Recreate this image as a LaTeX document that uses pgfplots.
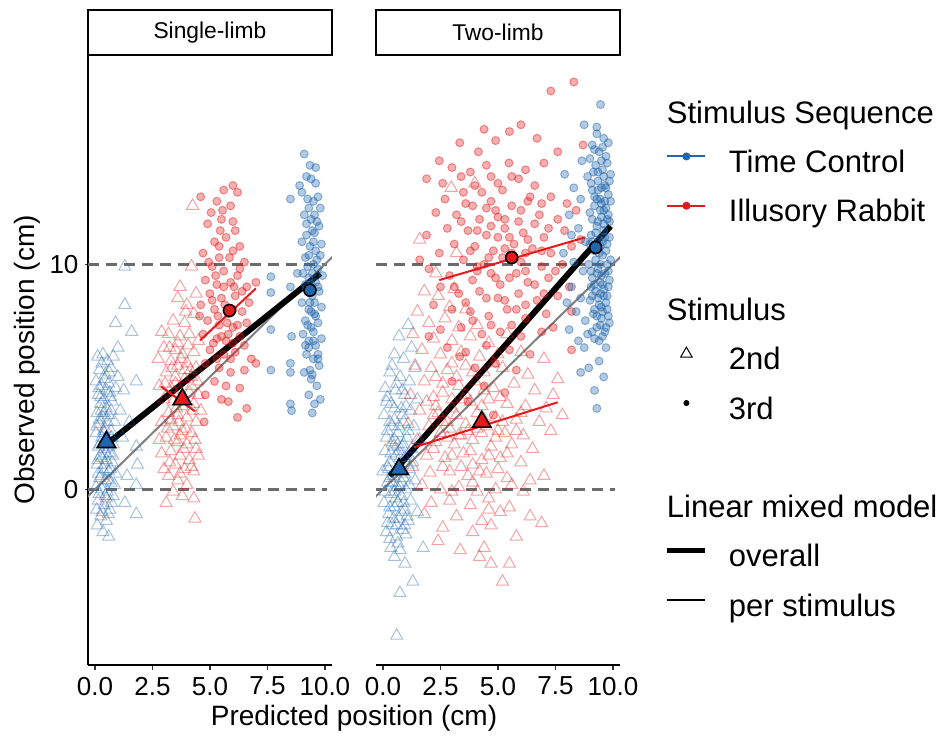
\documentclass[border=0pt]{standalone}
\usepackage{fontspec}
\setmainfont{Liberation Sans}
\usepackage{pgfplots}
\pgfplotsset{compat=1.18}
\definecolor{tcblue}{HTML}{2166AC}
\definecolor{irred}{HTML}{E31A1C}
\definecolor{refgray}{HTML}{7F7F7F}
\definecolor{dashgray}{HTML}{6B6B6B}

\pgfplotsset{
  panel/.style={
    scale only axis, width=121.9pt, height=305pt,
    xmin=-0.3, xmax=10.3, ymin=-7.8, ymax=19.3,
    axis x line=bottom,
    every outer x axis line/.append style={-},
    every outer y axis line/.append style={-},
    axis line style={-, line width=1pt},
    xtick={0,2.5,5,7.5,10},
    xticklabel style={/pgf/number format/fixed, /pgf/number format/fixed zerofill, /pgf/number format/precision=1},
    /pgf/number format/assume math mode=true,
    tick style={black!80, line width=0.8pt},
    tick align=outside, major tick length=2.5pt,
    tick label style={font=\fontsize{13}{15}\selectfont},
    anchor=south west,
  },
  tri/.style={only marks, mark=triangle, mark size=3.5pt,
    mark options={draw=#1, draw opacity=0.4, line width=0.5pt}, forget plot},
  circ/.style={only marks, mark=*, mark size=2pt,
    mark options={draw=#1, fill=#1, draw opacity=0.45, fill opacity=0.35, line width=0.5pt}, forget plot},
  hline/.style={dashgray, line width=1.2pt, dash pattern=on 5.5pt off 3.5pt, forget plot},
  meantri/.style={only marks, mark=triangle*, mark size=5.3pt,
    mark options={fill=#1, draw=black, line width=0.8pt}, forget plot},
  meancirc/.style={only marks, mark=*, mark size=3pt,
    mark options={fill=#1, draw=black, line width=0.8pt}, forget plot},
}

\begin{document}
\begin{tikzpicture}
\useasboundingbox (0,0) rectangle (470.5pt,369pt);

% ---------------- Single-limb ----------------
\begin{axis}[panel, at={(44pt,36.5pt)},
    axis y line=left, ytick={0,10}, y axis line style={-}]
\addplot[hline] coordinates {(-0.3,0) (10.1,0)};
\addplot[hline] coordinates {(-0.3,10) (10.1,10)};
% Time Control, 2nd
\addplot[tri=tcblue] coordinates {
(0.12,5.9) (0.35,6.0) (0.55,5.7) (0.8,5.9) (0.2,5.3) (0.45,5.1) (0.7,5.4) (0.05,4.8) (0.3,4.6) (0.6,4.7)
(0.9,4.5) (0.15,4.2) (0.4,4.0) (0.65,4.3) (0.25,3.8) (0.5,3.6) (0.75,3.9) (0.1,3.4) (0.35,3.2) (0.6,3.3)
(0.85,3.0) (0.2,2.9) (0.45,2.7) (0.7,2.6) (0.05,2.5) (0.3,2.3) (0.55,2.2) (0.8,2.0) (0.15,1.9) (0.4,1.8)
(0.65,1.6) (0.25,1.5) (0.5,1.3) (0.75,1.2) (0.1,1.1) (0.35,0.9) (0.6,0.8) (0.9,0.7) (0.2,0.5) (0.45,0.4)
(0.7,0.3) (0.05,0.1) (0.3,0.0) (0.55,-0.1) (0.8,-0.3) (0.15,-0.5) (0.4,-0.7) (0.65,-0.9) (0.25,-1.2) (0.5,-1.4)
(0.1,-1.6) (0.35,-1.9) (0.6,-2.1) (0.2,3.1) (0.5,4.4) (0.3,5.6) (0.4,2.5) (0.6,1.9) (0.15,0.7) (0.5,-0.4)
(0.3,1.4) (0.7,3.5) (1.3,9.9) (1.3,8.2) (0.9,7.4) (1.6,7.0) (1.0,6.3) (1.8,4.8) (1.25,4.4) (1.1,3.5)
(1.5,3.0) (1.8,1.9) (1.85,1.1) (1.4,0.6) (1.8,0.2) (1.3,-0.6) (1.8,-1.1) (1.2,2.3) (1.0,5.0)
(0.18,4.5) (0.42,4.9) (0.68,4.1) (0.28,3.5) (0.55,3.0) (0.08,2.8) (0.38,2.6) (0.72,2.3) (0.22,2.0) (0.48,1.6)
(0.78,1.5) (0.12,1.3) (0.42,1.1) (0.68,0.9) (0.28,0.6) (0.58,0.4) (0.85,0.2) (0.18,-0.2) (0.45,-0.3) (0.72,-0.6)
(0.32,-1.0) (0.58,-1.1) (0.08,-0.9) (0.4,3.4) (0.62,5.2) (0.25,4.1)
};
% Illusory Rabbit, 2nd
\addplot[tri=irred] coordinates {
(4.25,12.6) (4.2,9.9) (3.7,9.0) (4.4,8.7) (3.6,8.5) (4.0,8.2) (4.3,7.8) (3.4,7.5) (3.9,7.4) (2.9,7.0)
(3.2,6.9) (3.7,6.8) (4.1,6.9) (4.5,6.6) (3.0,6.3) (3.5,6.2) (3.8,6.0) (4.3,6.1) (2.75,5.8) (3.3,5.7)
(3.6,5.5) (4.0,5.6) (4.4,5.4) (3.1,5.2) (3.5,5.0) (3.9,4.9) (4.2,5.0) (2.8,4.6) (3.3,4.5) (3.7,4.4)
(4.1,4.3) (4.5,4.2) (3.0,4.0) (3.4,3.9) (3.8,3.7) (4.3,3.8) (3.2,3.4) (3.6,3.3) (4.0,3.2) (4.4,3.0)
(2.9,3.0) (3.4,2.8) (3.8,2.6) (4.2,2.5) (3.1,2.3) (3.6,2.1) (4.0,2.0) (4.4,1.8) (3.3,1.7) (3.7,1.5)
(4.1,1.3) (2.9,1.6) (3.5,1.1) (3.9,0.9) (4.3,0.8) (3.2,0.6) (3.6,0.4) (4.0,0.2) (3.4,-0.1) (3.8,-0.3)
(4.3,-0.4) (3.1,-0.6) (4.35,-1.3) (2.8,2.2) (4.6,3.5) (3.5,4.7) (3.9,5.3) (4.2,4.6) (3.3,3.1) (3.7,2.4)
(4.5,1.5) (3.0,0.9) (3.6,6.5) (3.95,7.9)
(3.25,6.3) (3.75,5.8) (4.15,5.3) (3.45,4.3) (3.85,4.1) (4.25,3.5) (3.55,3.6) (3.15,2.7) (3.95,2.7) (4.35,2.2)
(3.45,2.2) (3.85,1.8) (3.25,1.2) (4.2,1.0) (3.7,0.7) (3.35,5.4) (4.05,6.4) (3.65,3.0) (4.45,4.8) (3.05,4.7)
};
% Illusory Rabbit, 3rd
\addplot[circ=irred] coordinates {
(4.6,13.0) (5.6,13.3) (6.0,13.5) (6.2,13.2) (5.3,12.8) (5.9,12.6) (4.9,11.8) (5.5,12.0) (6.1,11.5) (5.2,11.0)
(5.7,11.2) (6.3,10.8) (4.7,10.5) (5.4,10.3) (6.0,10.6) (6.5,10.1) (5.1,9.9) (5.6,9.7) (6.2,9.5) (4.8,9.3)
(5.3,9.1) (5.9,9.2) (6.6,9.0) (7.0,9.2) (5.0,8.7) (5.5,8.5) (6.1,8.6) (6.7,8.3) (4.6,8.2) (5.2,8.0)
(5.8,7.8) (6.4,7.9) (4.9,7.5) (5.4,7.3) (6.0,7.2) (6.6,7.4) (4.7,6.9) (5.3,6.7) (5.7,6.6) (6.3,6.8)
(5.0,6.2) (5.6,6.0) (6.1,6.1) (6.8,5.8) (7.0,5.6) (4.8,5.6) (5.4,5.4) (5.9,5.2) (6.5,5.3) (5.2,4.8)
(5.7,4.6) (6.3,4.5) (4.8,4.2) (5.5,4.0) (6.6,3.6) (6.2,3.2) (4.75,3.0) (5.8,3.9) (5.1,8.4) (5.6,9.0)
(6.0,8.0) (5.4,10.8) (6.3,9.8) (5.8,6.9) (6.5,6.4) (5.3,5.8) (6.0,11.9) (5.05,12.3) (4.55,7.7)
(5.45,11.5) (5.85,10.3) (5.25,9.5) (6.05,9.0) (5.65,8.2) (5.35,7.7) (6.2,7.3) (5.75,7.4) (5.15,6.5) (6.0,6.5)
(5.5,6.8) (5.9,5.8) (6.4,8.8) (5.55,12.4) (4.95,10.1)
};
% Time Control, 3rd
\addplot[circ=tcblue] coordinates {
(9.1,14.9) (9.4,13.8) (9.0,13.2) (9.7,13.0) (9.3,12.5) (9.55,12.2) (9.2,11.8) (9.45,11.5) (9.75,11.7) (9.0,11.0)
(9.35,10.8) (9.6,10.6) (9.85,10.9) (9.15,10.3) (9.5,10.0) (9.7,9.8) (9.05,9.6) (9.3,9.4) (9.6,9.2) (9.9,9.5)
(9.2,8.9) (9.45,8.6) (9.75,8.8) (9.0,8.3) (9.3,8.0) (9.55,7.8) (9.85,8.1) (9.15,7.5) (9.4,7.2) (9.7,7.4)
(9.05,6.9) (9.3,6.6) (9.6,6.4) (9.85,6.7) (9.2,6.0) (9.5,5.8) (9.75,5.5) (9.1,5.2) (9.4,4.9) (9.65,4.6)
(9.3,4.2) (9.55,3.8) (9.8,4.0) (9.45,3.4) (9.2,13.9) (9.6,14.3) (9.5,11.0) (9.25,9.9) (9.65,10.2) (9.4,7.9)
(9.55,8.3) (9.3,6.3) (9.7,6.0) (9.1,12.2) (9.8,12.5) (9.4,9.1) (9.5,7.0) (9.35,5.3) (8.5,12.9) (8.5,9.0)
(8.55,6.8) (8.5,5.6) (8.5,5.2) (8.5,3.8) (8.55,3.5) (7.65,9.45) (7.65,8.75) (7.65,7.1) (7.65,5.3) (8.9,13.5)
(8.8,9.6)
(9.25,12.9) (9.5,12.8) (9.65,11.9) (9.4,12.0) (9.2,11.3) (9.55,11.4) (9.3,10.4) (9.8,10.4) (9.45,9.6) (9.15,9.1)
(9.7,9.0) (9.35,8.3) (9.6,7.7) (9.25,7.3) (9.5,6.6) (9.15,6.4) (9.7,5.8) (9.45,5.1) (9.6,13.6) (9.35,14.4)
};
% identity and model lines
\addplot[refgray, line width=1pt, forget plot] coordinates {(-0.5,-0.5) (10.5,10.5)};
\addplot[black, line width=3pt, forget plot] coordinates {(0.5,2.0) (9.8,9.6)};
\addplot[irred, line width=1pt, forget plot] coordinates {(2.87,4.58) (4.35,3.47)};
\addplot[irred, line width=1pt, forget plot] coordinates {(4.57,6.62) (7.0,8.93)};
% means
\addplot[meantri=tcblue] coordinates {(0.5,2.1)};
\addplot[meantri=irred] coordinates {(3.8,4.0)};
\addplot[meancirc=irred] coordinates {(5.85,7.95)};
\addplot[meancirc=tcblue] coordinates {(9.35,8.85)};
\end{axis}

% ---------------- Two-limb ----------------
\begin{axis}[panel, at={(188pt,36.5pt)},
    axis y line=none,
    legend cell align=left,
    legend style={draw=none, fill=none, at={(1.185,0.926)}, anchor=north west,
      inner sep=0pt, outer sep=0pt, row sep=9.65pt, column sep=10.5pt,
      nodes={inner sep=0pt, text height=11.5pt, text depth=3.5pt},
      font=\fontsize{15.5}{18}\selectfont}]
\addplot[hline] coordinates {(-0.3,0) (10.1,0)};
\addplot[hline] coordinates {(-0.3,10) (10.1,10)};
% Time Control, 2nd
\addplot[tri=tcblue] coordinates {
(1.1,7.3) (0.7,6.8) (1.25,6.3) (0.5,6.0) (0.9,5.8) (1.4,5.4) (0.3,5.2) (0.75,5.0) (1.15,4.8) (0.1,4.5)
(0.55,4.4) (0.95,4.2) (1.5,4.0) (0.35,3.8) (0.8,3.6) (1.2,3.5) (0.05,3.3) (0.5,3.1) (0.9,3.0) (1.35,2.8)
(0.2,2.6) (0.65,2.5) (1.05,2.3) (0.4,2.1) (0.85,1.9) (1.25,1.8) (0.1,1.7) (0.55,1.5) (0.95,1.4) (0.3,1.2)
(0.75,1.0) (1.15,0.9) (0.0,0.8) (0.45,0.6) (0.9,0.5) (1.4,0.4) (0.2,0.3) (0.6,0.1) (1.0,0.0) (0.35,-0.2)
(0.8,-0.3) (1.2,-0.5) (0.05,-0.6) (0.5,-0.8) (0.95,-0.9) (0.25,-1.1) (0.7,-1.3) (1.1,-1.4) (0.4,-1.6) (0.85,-1.8)
(0.15,-1.9) (0.6,-2.1) (1.0,-2.0) (0.3,-2.2) (1.75,-2.6) (0.75,-2.7) (0.5,-3.0) (0.96,-3.3) (1.3,-4.1) (0.74,-4.6)
(0.6,-6.5) (0.6,4.7) (0.4,2.8) (0.7,1.7) (0.25,0.9) (1.3,1.2) (0.55,-0.4) (1.6,2.2) (0.15,3.9) (1.0,3.7)
(0.65,2.0) (0.3,0.5) (0.9,-0.6) (1.5,-1.0) (0.45,1.9) (0.8,0.3)
(0.2,4.1) (0.5,3.6) (0.85,3.3) (0.3,3.0) (0.7,2.8) (1.1,2.6) (0.15,2.3) (0.5,2.2) (0.9,2.0) (0.35,1.6)
(0.75,1.4) (1.1,1.1) (0.2,1.0) (0.55,0.8) (0.95,0.7) (0.4,0.3) (0.75,0.1) (1.15,0.2) (0.1,-0.1) (0.5,-0.1)
(0.65,-0.6) (0.3,-0.8) (0.8,-1.0) (1.05,-1.2) (0.45,-1.3) (0.2,-1.5) (0.6,-1.6) (0.95,-1.6) (0.35,-2.6) (0.65,-2.4)
(0.85,4.4) (0.4,5.5)
};
% Illusory Rabbit, 2nd
\addplot[tri=irred] coordinates {
(4.0,13.6) (2.97,13.4) (1.6,11.1) (3.2,10.5) (2.3,9.6) (1.8,8.8) (2.4,8.6) (3.1,8.9) (2.9,8.1) (3.6,8.0)
(1.5,7.9) (2.0,7.4) (2.7,7.6) (3.3,7.2) (4.1,7.3) (1.3,6.9) (2.2,6.7) (3.0,6.6) (3.8,6.8) (4.6,6.5)
(5.4,6.9) (1.7,6.2) (2.5,6.0) (3.4,6.1) (4.2,5.9) (5.0,6.0) (6.0,6.1) (7.0,5.8) (1.4,5.5) (2.1,5.4)
(2.8,5.3) (3.6,5.5) (4.4,5.2) (5.2,5.4) (6.3,5.1) (7.6,4.9) (1.8,4.8) (2.6,4.7) (3.3,4.6) (4.0,4.8)
(4.8,4.5) (5.7,4.7) (6.6,4.4) (7.4,4.2) (1.2,4.2) (2.2,4.1) (3.0,4.0) (3.8,3.9) (4.6,4.0) (5.4,3.8)
(6.2,3.7) (7.1,3.6) (1.6,3.5) (2.4,3.4) (3.2,3.3) (4.1,3.4) (4.9,3.2) (5.8,3.1) (6.8,3.0) (7.8,3.3)
(1.1,2.9) (2.0,2.8) (2.9,2.7) (3.7,2.6) (4.5,2.8) (5.3,2.5) (6.1,2.4) (7.3,2.6) (1.5,2.2) (2.3,2.1)
(3.1,2.0) (3.9,2.2) (4.7,1.9) (5.6,2.0) (6.5,1.8) (1.9,1.5) (2.7,1.4) (3.5,1.6) (4.3,1.3) (5.1,1.4)
(6.0,1.2) (7.0,0.6) (1.3,1.0) (2.05,0.75) (2.9,0.8) (3.7,0.6) (4.5,0.7) (5.4,0.5) (6.4,0.4) (1.7,0.2)
(2.5,0.0) (3.3,0.1) (4.1,-0.1) (4.9,0.0) (6.1,-0.1) (2.1,-0.6) (2.9,-0.5) (3.8,-0.7) (4.6,-0.4) (5.5,-0.8)
(1.8,-1.1) (3.2,-1.2) (4.3,-1.4) (5.1,-1.0) (6.4,-1.2) (6.9,-1.5) (2.6,-1.7) (3.9,-1.9) (4.7,-1.6) (3.36,-2.7)
(4.4,-2.6) (4.2,-3.0) (4.7,-3.3) (5.5,-3.3) (5.2,-4.1) (2.4,-2.3) (5.8,-2.1) (3.0,3.6) (3.4,2.4) (2.6,3.0)
(4.3,2.5) (3.6,4.2) (2.8,2.3) (3.9,1.1) (2.3,3.7) (4.4,4.4) (5.0,2.6) (1.9,3.9) (3.2,5.0)
(2.3,5.0) (3.0,5.6) (3.9,5.2) (4.8,5.6) (2.6,4.3) (3.5,4.0) (4.3,3.7) (5.1,4.1) (2.2,3.3) (2.8,3.0)
(3.6,2.9) (4.4,3.1) (5.2,3.0) (6.0,3.4) (2.5,2.5) (3.3,2.4) (4.1,2.7) (4.9,2.3) (5.8,2.6) (2.2,1.8)
(3.0,1.5) (3.8,1.7) (4.6,1.5) (5.4,1.6) (2.6,1.0) (3.4,1.0) (4.2,0.8) (5.0,0.9) (3.0,-0.1) (3.9,0.3)
(4.6,-0.9) (5.6,0.2)
};
% Illusory Rabbit, 3rd
\addplot[circ=irred] coordinates {
(8.3,18.1) (7.3,17.7) (2.45,14.6) (3.34,15.4) (4.15,15.0) (4.9,15.5) (5.48,14.5) (7.0,14.5) (7.6,15.0) (8.7,15.3)
(3.0,14.3) (3.8,14.1) (4.5,14.4) (6.2,14.2) (5.9,13.8) (4.0,13.5) (3.5,13.2) (5.2,13.3) (6.6,13.5) (7.3,13.0)
(2.7,12.9) (4.7,12.8) (5.6,12.6) (6.3,12.8) (8.0,12.7) (2.3,12.3) (3.2,12.2) (4.2,12.0) (5.0,12.1) (5.9,11.9)
(6.8,12.2) (7.6,12.0) (8.4,12.4) (2.8,11.6) (3.7,11.5) (4.5,11.3) (5.3,11.6) (6.1,11.4) (7.0,11.2) (7.9,11.5)
(8.6,11.1) (1.9,11.3) (3.1,10.9) (4.0,10.8) (4.8,10.6) (5.7,10.9) (6.5,10.7) (7.3,10.5) (8.2,10.8) (2.45,10.5)
(3.5,10.2) (4.4,10.0) (5.2,10.3) (6.0,10.1) (6.9,9.9) (7.8,10.0) (2.0,9.8) (2.9,9.5) (3.9,9.3) (4.7,9.6)
(5.5,9.4) (6.3,9.2) (7.2,9.4) (8.1,9.0) (2.5,9.0) (3.3,8.7) (4.2,8.8) (5.0,8.5) (5.9,8.7) (6.7,8.4)
(7.6,8.6) (2.2,8.2) (3.0,8.0) (3.8,7.9) (4.6,7.7) (5.4,8.0) (6.2,7.6) (7.1,7.8) (8.2,7.9) (2.5,7.1)
(3.4,7.2) (4.3,6.9) (5.1,7.0) (6.0,6.8) (6.9,7.0) (2.8,6.3) (3.6,6.1) (4.5,6.4) (5.5,6.2) (6.4,6.0)
(8.2,6.2) (3.34,5.9) (4.0,5.4) (4.9,5.6) (5.8,5.3) (3.0,4.8) (4.4,4.6) (5.3,4.3) (3.7,3.9) (4.8,3.3)
(1.9,13.8) (1.6,10.2) (5.5,15.9) (6.7,15.6) (5.1,9.1) (5.6,10.5) (4.5,12.5) (6.2,9.7) (4.1,9.9) (5.0,11.2)
(6.6,11.8) (3.6,8.3) (5.8,8.0) (4.7,7.3) (6.4,13.0) (3.9,12.6) (7.4,7.2) (2.6,13.6) (4.4,16.0) (6.0,16.2)
(2.0,6.8)
(3.4,13.9) (4.3,13.2) (5.0,13.6) (5.6,13.9) (4.7,13.9) (3.6,12.7) (4.9,12.4) (5.3,12.0) (6.0,12.4) (6.9,12.7)
(3.4,11.9) (4.1,11.5) (4.7,11.7) (5.5,11.2) (6.3,11.1) (7.2,11.6) (3.8,10.6) (4.6,10.3) (5.3,10.7) (6.2,10.5)
(6.9,10.6) (4.1,9.7) (4.9,9.4) (5.8,9.6) (6.6,9.1) (7.5,9.7) (3.1,9.0) (4.5,8.5) (5.3,8.4) (6.2,8.2)
(7.0,8.7) (3.9,7.5) (5.6,7.3)
};
% Time Control, 3rd
\addplot[circ=tcblue] coordinates {
(9.46,17.1) (8.75,16.2) (9.3,16.1) (9.6,15.6) (9.1,15.3) (9.8,15.4) (9.4,15.0) (9.0,14.7) (9.7,14.8) (9.25,14.4)
(9.55,14.2) (9.9,14.0) (8.9,13.9) (9.35,13.7) (9.65,13.5) (9.1,13.3) (9.8,13.1) (9.45,12.9) (9.2,12.6) (9.7,12.5)
(9.0,12.3) (9.5,12.1) (9.85,11.9) (9.3,11.7) (9.6,11.5) (9.05,11.3) (9.4,11.1) (9.75,10.9) (9.2,10.6) (9.55,10.4)
(9.9,10.2) (8.95,10.0) (9.35,9.8) (9.65,9.6) (9.1,9.4) (9.45,9.2) (9.8,9.0) (9.25,8.8) (9.6,8.6) (9.0,8.4)
(9.4,8.2) (9.75,8.0) (9.15,7.8) (9.5,7.6) (9.85,7.4) (9.3,7.2) (9.65,7.0) (8.9,6.9) (9.4,6.6) (9.7,6.3)
(9.4,5.7) (8.95,5.4) (9.6,5.0) (9.2,4.4) (9.3,3.6) (8.6,5.2) (9.3,15.8) (9.6,13.9) (9.2,13.0) (9.5,12.7)
(9.8,12.2) (9.35,11.9) (9.1,11.0) (9.65,11.2) (9.4,10.5) (9.75,10.0) (9.25,10.2) (9.5,9.5) (9.85,9.3) (9.05,9.0)
(9.6,8.9) (9.35,8.5) (9.7,8.3) (9.2,8.0) (9.55,7.9) (9.45,7.3) (9.8,7.7) (9.1,7.0) (9.5,14.6) (9.15,14.1)
(9.7,13.4) (9.9,12.8) (9.45,10.8) (9.3,9.6) (9.6,12.4) (9.0,10.9) (7.9,14.0) (8.3,13.4) (8.6,12.9) (8.1,12.2)
(8.5,11.6) (8.8,11.0) (7.85,10.5) (8.3,10.1) (8.7,9.7) (8.2,9.0) (8.6,8.5) (8.4,7.9) (8.8,7.5) (8.1,7.1)
(8.5,6.6) (8.75,6.3) (8.2,11.3) (8.65,14.6) (8.0,8.3)
(9.2,15.1) (9.55,15.2) (9.75,14.5) (9.35,14.1) (9.05,13.6) (9.5,13.4) (9.85,13.7) (9.3,12.9) (9.65,12.8) (9.1,12.0)
(9.45,12.4) (9.75,12.0) (9.25,11.4) (9.55,11.0) (9.85,11.2) (9.15,10.8) (9.45,10.0) (9.7,10.6) (9.05,9.7) (9.55,9.1)
(9.8,9.7) (9.2,9.1) (9.45,8.7) (9.75,8.6) (9.1,8.6) (9.5,8.1) (9.3,7.7) (9.7,7.2) (9.55,6.8) (9.2,6.7)
(9.6,11.8) (9.35,13.3)
};
% identity and model lines
\addplot[refgray, line width=1pt, forget plot] coordinates {(-0.5,-0.5) (10.5,10.5)};
\addplot[black, line width=3pt, forget plot] coordinates {(0.3,0.6) (9.9,11.7)};
\addplot[irred, line width=1pt, forget plot] coordinates {(1.35,1.87) (7.6,3.87)};
\addplot[irred, line width=1pt, forget plot] coordinates {(2.45,9.3) (8.8,11.2)};
% means
\addplot[meantri=tcblue] coordinates {(0.7,0.9)};
\addplot[meantri=irred] coordinates {(4.3,3.0)};
\addplot[meancirc=irred] coordinates {(5.6,10.3)};
\addplot[meancirc=tcblue] coordinates {(9.25,10.75)};

% legend
\addlegendimage{empty legend}
\addlegendentry{\hspace*{-31pt}Stimulus Sequence}
\addlegendimage{legend image code/.code={\draw[tcblue, line width=1pt] (0pt,4pt) -- (19pt,4pt); \fill[tcblue] (9.5pt,4pt) circle (1.8pt);}}
\addlegendentry{Time Control}
\addlegendimage{legend image code/.code={\draw[irred, line width=1pt] (0pt,4pt) -- (19pt,4pt); \fill[irred] (9.5pt,4pt) circle (1.8pt);}}
\addlegendentry{Illusory Rabbit}
\addlegendimage{empty legend}
\addlegendentry{}
\addlegendimage{empty legend}
\addlegendentry{\hspace*{-31pt}Stimulus}
\addlegendimage{legend image code/.code={\draw[black, line width=0.5pt] (9.5pt,4pt) +(90:3.3pt) -- +(210:3.3pt) -- +(330:3.3pt) -- cycle;}}
\addlegendentry{2nd}
\addlegendimage{legend image code/.code={\fill[black] (9.5pt,4pt) circle (1.3pt);}}
\addlegendentry{3rd}
\addlegendimage{empty legend}
\addlegendentry{}
\addlegendimage{empty legend}
\addlegendentry{\hspace*{-31pt}Linear mixed model}
\addlegendimage{legend image code/.code={\draw[black, line width=2.5pt] (0pt,4pt) -- (19pt,4pt);}}
\addlegendentry{overall}
\addlegendimage{legend image code/.code={\draw[black, line width=1pt] (0pt,4pt) -- (19pt,4pt);}}
\addlegendentry{per stimulus}
\end{axis}

% facet strips
\draw[line width=1pt, fill=white] (44pt,341.5pt) rectangle (165.9pt,364pt);
\node[font=\fontsize{11.4}{13}\selectfont] at (104.95pt,352.75pt) {Single-limb};
\draw[line width=1pt, fill=white] (188pt,341.5pt) rectangle (309.9pt,364pt);
\node[font=\fontsize{11.4}{13}\selectfont] at (248.95pt,352.75pt) {Two-limb};

% axis titles
\node[font=\fontsize{14}{16}\selectfont] at (177pt,10pt) {Predicted position (cm)};
\node[font=\fontsize{14}{16}\selectfont, rotate=90] at (13.5pt,189pt) {Observed position (cm)};
\end{tikzpicture}
\end{document}
